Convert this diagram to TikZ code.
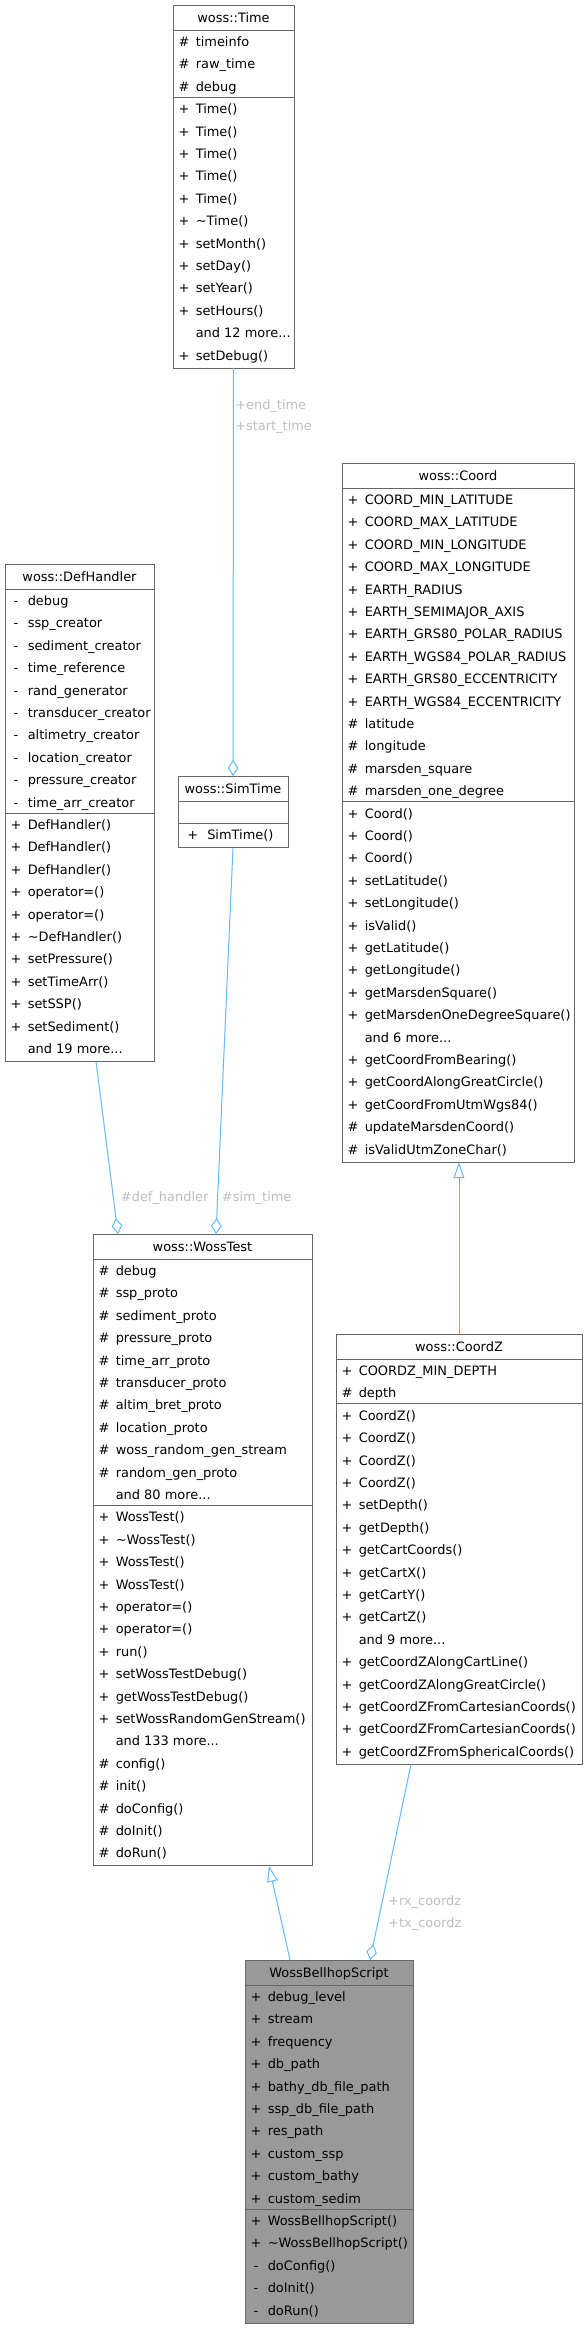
\documentclass[tikz,border=0pt]{standalone}
\usepackage{fontspec}
\setmainfont{DejaVu Sans}
\usetikzlibrary{arrows.meta,calc}
\definecolor{edgeblue}{HTML}{63B8FF}
\definecolor{boxgray}{HTML}{666666}
\definecolor{hlgray}{HTML}{999999}
\definecolor{labelgray}{HTML}{BEBEBE}
\newcommand{\pxu}{0.75pt}
\newcommand{\moredots}{.\kern0pt.\kern0pt.}
\tikzset{classbox/.style={draw=boxgray, line width=0.75pt, fill=white,
    anchor=north west, inner sep=0pt, outer sep=0pt}}
\tikzset{classtitle/.style={anchor=base, inner sep=0pt}}
\tikzset{sepline/.style={draw=boxgray, line width=0.75pt}}
\tikzset{vis/.style={anchor=base, inner sep=0pt}}
\tikzset{member/.style={anchor=base west, inner sep=0pt}}
\tikzset{aggr/.style={draw=edgeblue, line width=0.75pt,
    -{Diamond[open, length=12pt, width=8pt]}}}
\tikzset{inherit/.style={draw=edgeblue, line width=0.75pt,
    -{Triangle[open, length=12pt, width=8pt]}}}
\tikzset{edgelabel/.style={anchor=base west, inner sep=0pt, text=labelgray}}
% one row per member: #1 name prefix, #2 left edge, #3 section top, #4 list
\newcommand{\members}[4]{%
  \foreach \vis/\memb [count=\rowno] in {#4} {
    \node[vis] (#1-v\rowno) at (#2+11, #3+\rowno*22.4-5.9) {\vis};
    \node[member] (#1-\rowno) at (#2+22.5, #3+\rowno*22.4-5.9) {\memb};
  }%
}

\begin{document}
\begin{tikzpicture}[x=0.75pt, y=-0.75pt, font=\fontsize{9.7}{11.6}\selectfont]
    \path[fill=white, use as bounding box] (0,0) rectangle (586,2328);

    % woss::Time
    \node[classbox, minimum width=121*\pxu, minimum height=363*\pxu] (time) at (173,5) {};
    \node[classtitle] (time-title) at (233.5,22.8) {woss::Time};
    \draw[sepline] (173,30) -- (294,30) (173,97.2) -- (294,97.2);
    \members{time-a}{173}{30}{\#/timeinfo, \#/raw\_time, \#/debug}
    \members{time-m}{173}{97.2}{+/Time(), +/Time(), +/Time(), +/Time(), +/Time(),
        +/\textasciitilde Time(), +/setMonth(), +/setDay(), +/setYear(), +/setHours(),
        {}/and 12 more\moredots, +/setDebug()}

    % woss::DefHandler
    \node[classbox, minimum width=149*\pxu, minimum height=497.4*\pxu] (defh) at (5,564) {};
    \node[classtitle] (defh-title) at (79.5,581.8) {woss::DefHandler};
    \draw[sepline] (5,589) -- (154,589) (5,813) -- (154,813);
    \members{defh-a}{5}{589}{-/debug, -/ssp\_creator, -/sediment\_creator, -/time\_reference,
        -/rand\_generator, -/transducer\_creator, -/altimetry\_creator, -/location\_creator,
        -/pressure\_creator, -/time\_arr\_creator}
    \members{defh-m}{5}{813}{+/DefHandler(), +/DefHandler(), +/DefHandler(), +/operator=(),
        +/operator=(), +/\textasciitilde DefHandler(), +/setPressure(), +/setTimeArr(),
        +/setSSP(), +/setSediment(), {}/and 19 more\moredots}

    % woss::SimTime
    \node[classbox, minimum width=110*\pxu, minimum height=71.8*\pxu] (simtime) at (178,776) {};
    \node[classtitle] (simtime-title) at (233,793.8) {woss::SimTime};
    \draw[sepline] (178,801) -- (288,801) (178,823.4) -- (288,823.4);
    \node[vis] (simtime-v1) at (192.7,839.9) {+};
    \node[member] (simtime-1) at (207,839.9) {SimTime()};

    % woss::Coord
    \node[classbox, minimum width=232*\pxu, minimum height=699*\pxu] (coord) at (342,463) {};
    \node[classtitle] (coord-title) at (458,480.8) {woss::Coord};
    \draw[sepline] (342,488) -- (574,488) (342,801.6) -- (574,801.6);
    \members{coord-a}{342}{488}{+/COORD\_MIN\_LATITUDE, +/COORD\_MAX\_LATITUDE,
        +/COORD\_MIN\_LONGITUDE, +/COORD\_MAX\_LONGITUDE, +/EARTH\_RADIUS,
        +/EARTH\_SEMIMAJOR\_AXIS, +/EARTH\_GRS80\_POLAR\_RADIUS, +/EARTH\_WGS84\_POLAR\_RADIUS,
        +/EARTH\_GRS80\_ECCENTRICITY, +/EARTH\_WGS84\_ECCENTRICITY, \#/latitude,
        \#/longitude, \#/marsden\_square, \#/marsden\_one\_degree}
    \members{coord-m}{342}{801.6}{+/Coord(), +/Coord(), +/Coord(), +/setLatitude(),
        +/setLongitude(), +/isValid(), +/getLatitude(), +/getLongitude(),
        +/getMarsdenSquare(), +/getMarsdenOneDegreeSquare(), {}/and 6 more\moredots,
        +/getCoordFromBearing(), +/getCoordAlongGreatCircle(), +/getCoordFromUtmWgs84(),
        \#/updateMarsdenCoord(), \#/isValidUtmZoneChar()}

    % woss::WossTest
    \node[classbox, minimum width=219*\pxu, minimum height=631.8*\pxu] (wosstest) at (93,1234) {};
    \node[classtitle] (wosstest-title) at (202.5,1251.8) {woss::WossTest};
    \draw[sepline] (93,1259) -- (312,1259) (93,1505.4) -- (312,1505.4);
    \members{wosstest-a}{93}{1259}{\#/debug, \#/ssp\_proto, \#/sediment\_proto,
        \#/pressure\_proto, \#/time\_arr\_proto, \#/transducer\_proto, \#/altim\_bret\_proto,
        \#/location\_proto, \#/woss\_random\_gen\_stream, \#/random\_gen\_proto,
        {}/and 80 more\moredots}
    \members{wosstest-m}{93}{1505.4}{+/WossTest(), +/\textasciitilde WossTest(), +/WossTest(),
        +/WossTest(), +/operator=(), +/operator=(), +/run(), +/setWossTestDebug(),
        +/getWossTestDebug(), +/setWossRandomGenStream(), {}/and 133 more\moredots,
        \#/config(), \#/init(), \#/doConfig(), \#/doInit(), \#/doRun()}

    % woss::CoordZ
    \node[classbox, minimum width=246*\pxu, minimum height=430.2*\pxu] (coordz) at (336,1334) {};
    \node[classtitle] (coordz-title) at (459,1351.8) {woss::CoordZ};
    \draw[sepline] (336,1359) -- (582,1359) (336,1403.8) -- (582,1403.8);
    \members{coordz-a}{336}{1359}{+/COORDZ\_MIN\_DEPTH, \#/depth}
    \members{coordz-m}{336}{1403.8}{+/CoordZ(), +/CoordZ(), +/CoordZ(), +/CoordZ(),
        +/setDepth(), +/getDepth(), +/getCartCoords(), +/getCartX(), +/getCartY(),
        +/getCartZ(), {}/and 9 more\moredots, +/getCoordZAlongCartLine(),
        +/getCoordZAlongGreatCircle(), +/getCoordZFromCartesianCoords(),
        +/getCoordZFromCartesianCoords(), +/getCoordZFromSphericalCoords()}

    % WossBellhopScript
    \node[classbox, fill=hlgray, minimum width=168*\pxu, minimum height=363*\pxu] (bellhop) at (245,1960) {};
    \node[classtitle] (bellhop-title) at (329,1977.8) {WossBellhopScript};
    \draw[sepline] (245,1985) -- (413,1985) (245,2209) -- (413,2209);
    \members{bellhop-a}{245}{1985}{+/debug\_level, +/stream, +/frequency, +/db\_path,
        +/bathy\_db\_file\_path, +/ssp\_db\_file\_path, +/res\_path, +/custom\_ssp,
        +/custom\_bathy, +/custom\_sedim}
    \members{bellhop-m}{245}{2209}{+/WossBellhopScript(), +/\textasciitilde WossBellhopScript(),
        -/doConfig(), -/doInit(), -/doRun()}

    % Connectors
    \draw[aggr] (time.south) -- (simtime.north);
    \draw[aggr] ($(defh.south west)+(91,0)$) -- ($(wosstest.north west)+(25,0)$);
    \draw[aggr] (simtime.south) -- ($(wosstest.north west)+(123,0)$);
    \draw[inherit] (coordz.north) -- (coordz.north |- coord.south);
    \draw[inherit] ($(bellhop.north west)+(45,0)$) -- ($(wosstest.south west)+(176,0)$);
    \draw[aggr] ($(coordz.south west)+(75,0)$) -- ($(bellhop.north west)+(125,0)$);

    % Labels
    \node[edgelabel] (lbl-end) at (235,409) {+end\_time};
    \node[edgelabel] (lbl-start) at (235,430) {+start\_time};
    \node[edgelabel] (lbl-defh) at (120.7,1201.5) {\#def\_handler};
    \node[edgelabel] (lbl-sim) at (221.7,1201.5) {\#sim\_time};
    \node[edgelabel] (lbl-rx) at (388,1905) {+rx\_coordz};
    \node[edgelabel] (lbl-tx) at (388,1927) {+tx\_coordz};
\end{tikzpicture}
\end{document}
